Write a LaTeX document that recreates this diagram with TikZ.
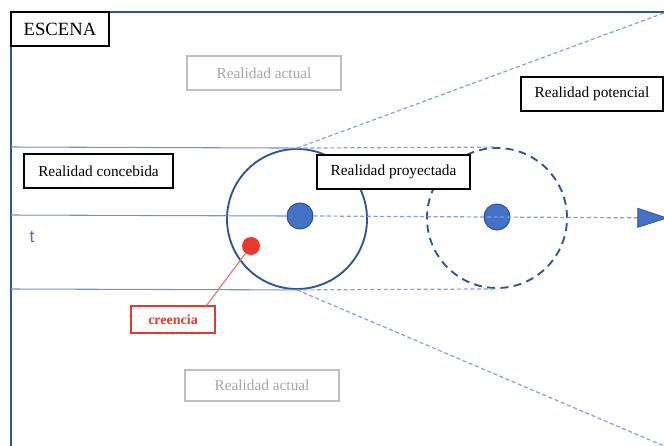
\documentclass[tikz,border=0pt]{standalone}
\usepackage{fontspec}
\setmainfont{Liberation Serif}
\setsansfont{Liberation Sans}
\usepackage{tikz}
\usetikzlibrary{arrows.meta}
\definecolor{frameblue}{HTML}{2F5597}
\definecolor{lineblue}{HTML}{6F93D3}
\definecolor{dashblue}{HTML}{7FA0DC}
\definecolor{dotblue}{HTML}{4472C4}
\definecolor{beliefred}{HTML}{E8392F}
\definecolor{actualgray}{HTML}{BFBFBF}
\definecolor{actualtext}{HTML}{A6A6A6}

\begin{document}
\begin{tikzpicture}[x=0.75pt,y=-0.75pt,
			label box/.style={rectangle,draw=black,line width=0.8pt,fill=white,inner sep=0pt,
				minimum height=25.5pt,font=\fontsize{11.5}{13}\selectfont},
			actual box/.style={label box,draw=actualgray,text=actualtext},
			belief box/.style={label box,draw=beliefred,text=beliefred,minimum height=20.25pt,
				font=\fontsize{10.5}{12}\selectfont\bfseries},
			scene circle/.style={circle,draw=frameblue,line width=1.4pt,minimum size=105pt,inner sep=0pt},
			moment dot/.style={circle,draw=frameblue,fill=dotblue,line width=0.8pt,minimum size=19.5pt,inner sep=0pt},
			time line/.style={draw=lineblue,line width=0.8pt},
			open line/.style={draw=dashblue,line width=0.9pt,dash pattern=on 3pt off 2pt}]
			
			\useasboundingbox (0,0) rectangle (664,446);
			\clip (0,0) rectangle (664,446);
			
			% escena
			\coordinate (tl) at (11,12);
			\coordinate (tr) at (664,12);
			\coordinate (bl) at (11,446);
			\draw[frameblue,line width=1.2pt] (bl) -- (tl) -- (tr);
			
			% circulos
			\node[scene circle] (now) at (297,219) {};
			\node[scene circle,dash pattern=on 6pt off 4pt] (next) at (497,218) {};
			\node[moment dot] (p1) at (300,216) {};
			\node[moment dot] (p2) at (497,217) {};
			\node[circle,fill=beliefred,minimum size=13.5pt,inner sep=0pt] (b) at (251,246) {};
			
			\coordinate (top0) at (11,147);
			\coordinate (mid0) at (11,215);
			\coordinate (bot0) at (11,289);
			\coordinate (topend) at (664,13);
			\coordinate (botend) at (664,446);
			\coordinate (tip) at (668,218);
			
			\path[time line]
			(top0) edge (now.north)
			(mid0) edge (p1.west)
			(bot0) edge (now.south);
			
			\path[open line]
			(now.north) edge (next.north)
			(now.north) edge (topend)
			(now.south) edge (next.south)
			(now.south) edge (botend);
			
			\draw[open line,-{Triangle[length=23pt,width=15pt,color=frameblue,fill=dotblue,line width=0.6pt]}] (p1.east) -- (tip);
			
			% textos
			\node[label box,minimum width=73.5pt,font=\fontsize{14}{16}\selectfont] (esc) at (60,29) {ESCENA};
			\node[actual box,minimum width=115.5pt] (act1) at (264,73) {Realidad actual};
			\node[label box,minimum width=106.5pt] (pot) at (592,94) {Realidad potencial};
			\node[label box,minimum width=111.75pt] (conc) at (98.5,171) {Realidad concebida};
			\node[label box,minimum width=114.75pt] (proy) at (393.5,172) {Realidad proyectada};
			\node[belief box,minimum width=63pt] (cr) at (173,319.5) {creencia};
			\node[actual box,minimum width=115.5pt,minimum height=23.25pt] (act2) at (262,385.5) {Realidad actual};
			\node[text=dotblue,font=\sffamily\fontsize{13}{15}\selectfont] (t) at (32,237) {t};
			
			\draw[beliefred!75,line width=0.8pt] (b) -- ([xshift=-6.75pt]cr.north east);
			
			\end{tikzpicture}
\end{document}
